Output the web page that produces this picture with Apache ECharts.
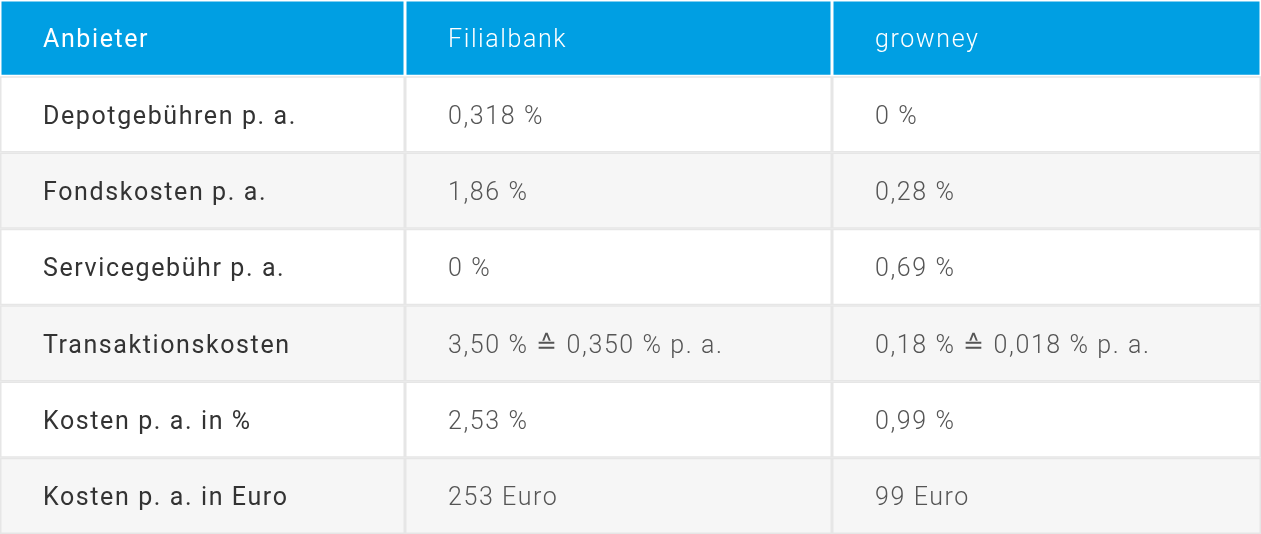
<!DOCTYPE html>
<html><head><meta charset="utf-8">
<script src="https://cdn.jsdelivr.net/npm/echarts@6/dist/echarts.min.js"></script>
<style>html,body{margin:0;padding:0;background:#fff}#c{width:1261px;height:534px}</style>
</head><body><div id="c"></div>
<script>
const columns = ['Anbieter', 'Filialbank', 'growney'];
const rowLabels = ['Depotgebühren p. a.', 'Fondskosten p. a.', 'Servicegebühr p. a.', 'Transaktionskosten', 'Kosten p. a. in %', 'Kosten p. a. in Euro'];
const filialbank = ['0,318 %', '1,86 %', '0 %', '3,50 % ≙ 0,350 % p. a.', '2,53 %', '253 Euro'];
const growney = ['0 %', '0,28 %', '0,69 %', '0,18 % ≙ 0,018 % p. a.', '0,99 %', '99 Euro'];

(function () {
  const P = CanvasRenderingContext2D.prototype;
  const f = P.fillText, m = P.measureText;
  P.fillText = function () { this.letterSpacing = '1.6px'; return f.apply(this, arguments); };
  P.measureText = function () { this.letterSpacing = '1.6px'; return m.apply(this, arguments); };
})();

const rows = ['h'].concat(rowLabels.map((_, i) => 'r' + i));
const cells = [];
columns.forEach((c, j) => cells.push([j, 0, c]));
rowLabels.forEach((l, i) => {
  cells.push([0, i + 1, l]);
  cells.push([1, i + 1, filialbank[i]]);
  cells.push([2, i + 1, growney[i]]);
});
const widths = [405, 427, 429];
const chart = echarts.init(document.getElementById('c'), null, {renderer: 'canvas'});
chart.setOption({
  animation: false,
  grid: {left: 0, right: 0, top: 0, bottom: 0},
  xAxis: {type: 'category', data: columns, show: false},
  yAxis: {type: 'category', data: rows, inverse: true, show: false},
  series: [{
    type: 'custom',
    data: cells,
    renderItem: function (params, api) {
      const j = api.value(0), i = api.value(1);
      const c = api.coord([0, i]);
      const h = api.size([1, 1])[1];
      let x0 = 0; for (let k = 0; k < j; k++) x0 += widths[k];
      const w = widths[j];
      const y0 = c[1] - h / 2;
      const header = i === 0;
      const fill = header ? '#009fe3' : (i % 2 === 0 ? '#f6f6f6' : '#ffffff');
      const stroke = header ? '#ffffff' : '#e6e6e6';
      return {
        type: 'group',
        children: [
          {type: 'rect', shape: {x: x0 + 0.75, y: y0 + 0.75, width: w - 1.5, height: h - 1.5}, style: {fill: fill, stroke: stroke, lineWidth: 1.5}},
          {type: 'text', style: {
            x: x0 + 43, y: y0 + h / 2 + 3, text: api.value(2),
            verticalAlign: 'middle', align: 'left',
            fontFamily: 'Roboto', fontSize: 25,
            fontWeight: (j === 0) ? 400 : 300,
            fill: header ? '#ffffff' : (j === 0 ? '#333333' : '#555555')
          }}
        ]
      };
    }
  }]
});
</script></body></html>
